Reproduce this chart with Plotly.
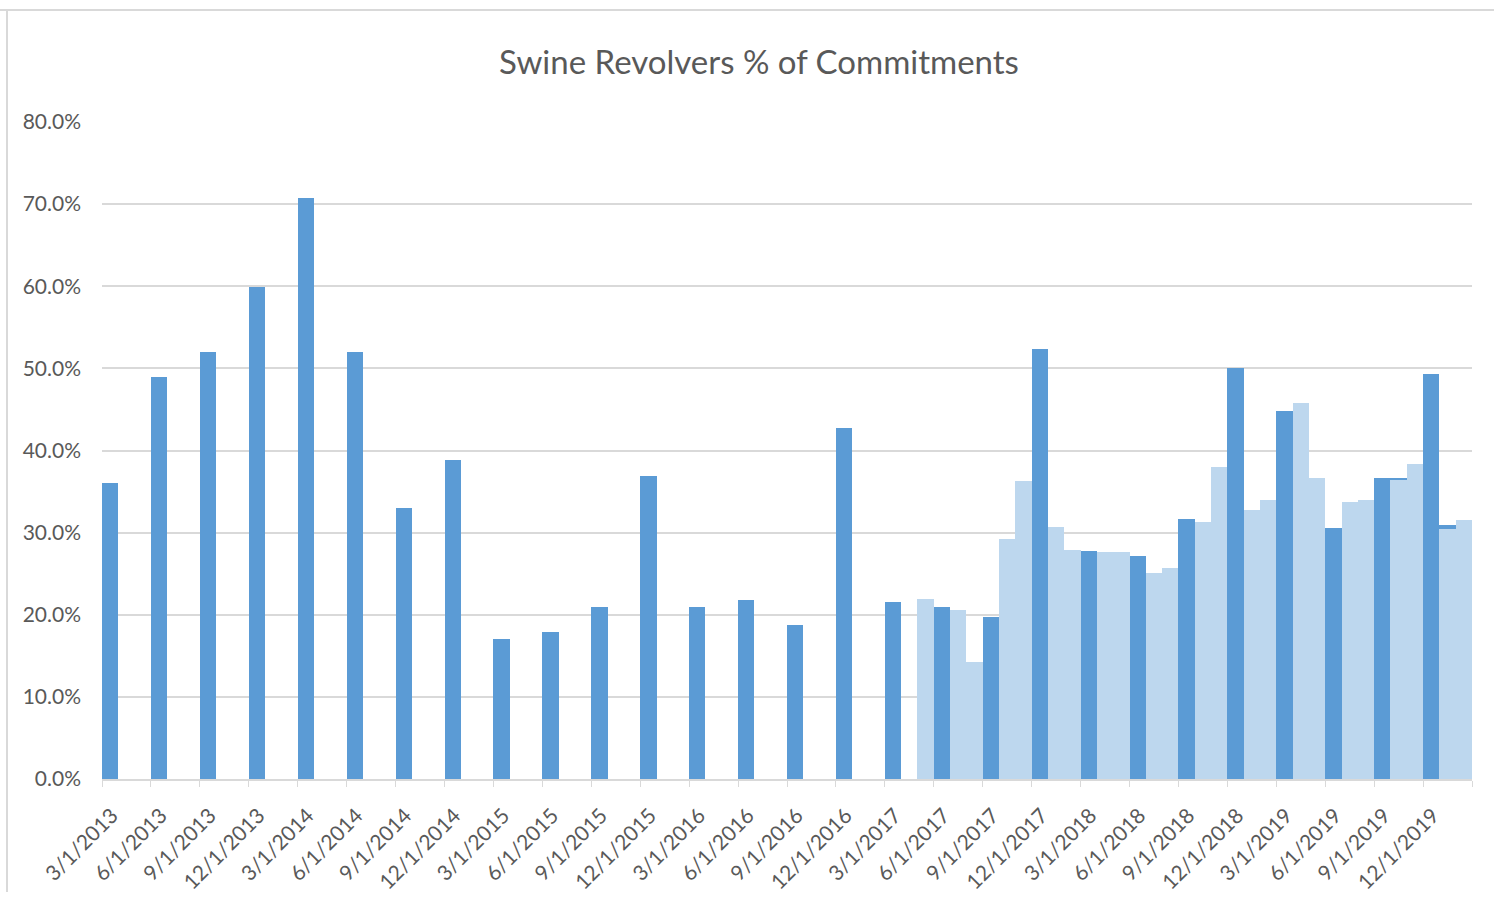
import pandas as pd
import plotly.graph_objects as go

# Quarter-start tick labels along the x axis
tick_labels = [
    "3/1/2013", "6/1/2013", "9/1/2013", "12/1/2013",
    "3/1/2014", "6/1/2014", "9/1/2014", "12/1/2014",
    "3/1/2015", "6/1/2015", "9/1/2015", "12/1/2015",
    "3/1/2016", "6/1/2016", "9/1/2016", "12/1/2016",
    "3/1/2017", "6/1/2017", "9/1/2017", "12/1/2017",
    "3/1/2018", "6/1/2018", "9/1/2018", "12/1/2018",
    "3/1/2019", "6/1/2019", "9/1/2019", "12/1/2019",
]
axis_end = "2020-03-01"

# Quarterly series (dark blue), % of commitments
dark_dates = [
    "2013-03-01", "2013-06-01", "2013-09-01", "2013-12-01",
    "2014-03-01", "2014-06-01", "2014-09-01", "2014-12-01",
    "2015-03-01", "2015-06-01", "2015-09-01", "2015-12-01",
    "2016-03-01", "2016-06-01", "2016-09-01", "2016-12-01",
    "2017-03-01", "2017-06-01", "2017-09-01", "2017-12-01",
    "2018-03-01", "2018-06-01", "2018-09-01", "2018-12-01",
    "2019-03-01", "2019-06-01", "2019-09-01", "2019-10-01",
    "2019-12-01", "2020-01-01",
]
dark_values = [
    36.0, 48.9, 52.0, 59.9,
    70.8, 52.0, 33.0, 38.9,
    17.0, 17.9, 20.9, 36.9,
    20.9, 21.8, 18.8, 42.7,
    21.6, 20.9, 19.7, 52.3,
    27.8, 27.1, 31.7, 50.1,
    44.8, 30.6, 36.7, 36.7,
    49.3, 30.9,
]

# Monthly series (light blue), % of commitments
light_dates = [
    "2017-05-01", "2017-07-01", "2017-08-01", "2017-10-01", "2017-11-01",
    "2018-01-01", "2018-02-01", "2018-04-01", "2018-05-01", "2018-07-01",
    "2018-08-01", "2018-10-01", "2018-11-01",
    "2019-01-01", "2019-02-01", "2019-04-01", "2019-05-01", "2019-07-01",
    "2019-08-01", "2019-10-01", "2019-11-01",
    "2020-01-01", "2020-02-01",
]
light_values = [
    21.9, 20.6, 14.3, 29.2, 36.3,
    30.7, 27.9, 27.6, 27.7, 25.1,
    25.7, 31.3, 38.0,
    32.8, 34.0, 45.8, 36.7, 33.7,
    34.0, 36.4, 38.3,
    30.5, 31.5,
]

DARK = "#5B9BD5"
LIGHT = "#BDD7EE"
GRID = "#D9D9D9"
TEXT = "#595959"
FONT = "Lato, 'Open Sans', sans-serif"

start = pd.Timestamp(tick_labels[0])


def month_slot(ts):
    """Whole months elapsed since the first tick (one slot per month)."""
    ts = pd.Timestamp(ts)
    return (ts.year - start.year) * 12 + (ts.month - start.month)


tick_pos = [month_slot(pd.to_datetime(s, format="%m/%d/%Y")) for s in tick_labels]
end_pos = month_slot(axis_end)

fig = go.Figure()
fig.add_trace(go.Bar(
    x=[month_slot(d) for d in dark_dates], y=dark_values,
    width=1, offset=0, marker=dict(color=DARK, line=dict(width=0)),
    name="Quarterly",
))
fig.add_trace(go.Bar(
    x=[month_slot(d) for d in light_dates], y=light_values,
    width=1, offset=0, marker=dict(color=LIGHT, line=dict(width=0)),
    name="Monthly",
))

# Plot area in pixels: x 102..1472, y 122..779
L, R, T, B = 102, 22, 122, 142
W, H = 1494, 921
pw, ph = W - L - R, H - T - B


def px_x(p):
    return (p - L) / pw


def px_y(p):
    return (H - B - p) / ph


fig.update_layout(
    width=W, height=H,
    margin=dict(l=L, r=R, t=T, b=B),
    paper_bgcolor="white", plot_bgcolor="white",
    barmode="overlay", bargap=0, showlegend=False,
    title=dict(
        text="Swine Revolvers % of Commitments",
        font=dict(family=FONT, size=33, color=TEXT),
        x=759 / W, xref="container", xanchor="center",
        y=1 - 62 / H, yref="container", yanchor="middle",
    ),
    xaxis=dict(
        range=[0, end_pos],
        tickmode="array",
        tickvals=tick_pos + [end_pos],
        ticktext=tick_labels + [""],
        ticks="outside", ticklen=6, tickcolor=GRID, tickwidth=1,
        showline=True, linecolor=GRID, linewidth=2,
        showgrid=False, zeroline=False,
        tickangle=-45,
        tickfont=dict(family=FONT, size=21, color=TEXT),
        ticklabelshift=10, ticklabelstandoff=8,
    ),
    yaxis=dict(
        range=[0, 80], dtick=10, tick0=0,
        ticksuffix="%", tickformat=".1f",
        showgrid=True, gridcolor=GRID, gridwidth=2,
        zeroline=False, showline=False,
        tickfont=dict(family=FONT, size=21, color=TEXT),
        ticklabelstandoff=20,
    ),
    shapes=[
        dict(type="line", xref="paper", yref="paper",
             x0=px_x(0), x1=px_x(W), y0=px_y(10), y1=px_y(10),
             line=dict(color=GRID, width=2)),
        dict(type="line", xref="paper", yref="paper",
             x0=px_x(7), x1=px_x(7), y0=px_y(10), y1=px_y(892),
             line=dict(color=GRID, width=2)),
    ],
)

fig.write_html("out.html")
